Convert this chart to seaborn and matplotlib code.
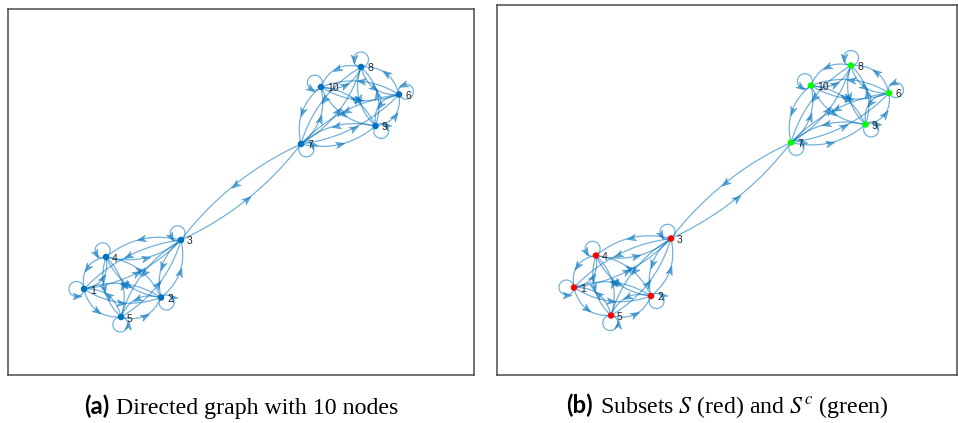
import numpy as np
import pandas as pd
import matplotlib
matplotlib.use("Agg")
import matplotlib.pyplot as plt
import seaborn as sns
from itertools import permutations
from matplotlib.path import Path
from matplotlib.markers import MarkerStyle
from matplotlib.transforms import Affine2D
from matplotlib.offsetbox import TextArea, HPacker, AnnotationBbox

# ---- graph data -------------------------------------------------------------
# layout coordinates (y axis points down)
node_ids = [1, 2, 3, 4, 5, 6, 7, 8, 9, 10]
node_x = [84, 161, 181, 106, 121, 399, 301, 361, 375.5, 321]
node_y = [289, 297.5, 240, 257, 317, 94.5, 144, 67, 126, 87]
# two complete digraphs joined by a pair of opposite edges
clusters = [[1, 2, 3, 4, 5], [6, 7, 8, 9, 10]]
bridge_edges = [(3, 7), (7, 3)]
# every node has a self-loop; screen direction of each loop in degrees
loop_angle = [180, -42, 117, 117, -95, 23, -45, 90, -41, 145]
subset = ["S", "S", "S", "S", "S", "Sc", "Sc", "Sc", "Sc", "Sc"]

captions = [("(a)", "Directed graph with 10 nodes"),
            ("(b)", "Subsets $S$ (red) and $S^c$ (green)")]

EDGE_COLOR = "#0072BD"
NODE_COLOR = "#0072BD"
SUBSET_PALETTE = {"S": "#FF0000", "Sc": "#00FF00"}

sns.set_style("white")
plt.rcParams["mathtext.fontset"] = "stix"

pos = {n: np.array([x, y], float) for n, x, y in zip(node_ids, node_x, node_y)}
nodes = pd.DataFrame({"node": node_ids, "x": node_x, "y": node_y, "subset": subset})

edges = [e for c in clusters for e in permutations(c, 2)] + bridge_edges

ARROW_PATH = Path([(1, 0), (-1, 0.75), (-0.45, 0), (-1, -0.75), (1, 0)],
                  [Path.MOVETO, Path.LINETO, Path.LINETO, Path.LINETO, Path.CLOSEPOLY])


def screen_dir(deg):
    a = np.radians(deg)
    return np.array([np.cos(a), -np.sin(a)])


def arrow_marker(vec):
    # vec is in layout coords (y down); markers rotate in screen coords (y up)
    ang = np.degrees(np.arctan2(-vec[1], vec[0]))
    return MarkerStyle(ARROW_PATH, transform=Affine2D().rotate_deg(ang))


def draw_arrow(ax, p, vec):
    ax.plot(p[0], p[1], marker=arrow_marker(vec), ms=6.5, color=EDGE_COLOR,
            alpha=0.6, mec=EDGE_COLOR, mew=0.4, zorder=2)


def draw_edges(ax, bend=9.5):
    t = np.linspace(0, 1, 50)[:, None]
    for s, d in edges:
        p0, p1 = pos[s], pos[d]
        vec = p1 - p0
        u = vec / np.linalg.norm(vec)
        right = np.array([-u[1], u[0]])
        ctrl = (p0 + p1) / 2 + right * 2 * bend
        curve = (1 - t) ** 2 * p0 + 2 * (1 - t) * t * ctrl + t ** 2 * p1
        ax.plot(curve[:, 0], curve[:, 1], color=EDGE_COLOR, lw=0.9, alpha=0.55,
                solid_capstyle="round", zorder=1)
        mid = 0.25 * p0 + 0.5 * ctrl + 0.25 * p1
        draw_arrow(ax, mid, vec)


def draw_loops(ax, r=7.5):
    phi = np.linspace(0, 360, 90)
    for n, ang in zip(node_ids, loop_angle):
        p = pos[n]
        c = p + r * screen_dir(ang)
        ring = np.array([c + r * screen_dir(ang + 180 + f) for f in phi])
        ax.plot(ring[:, 0], ring[:, 1], color=EDGE_COLOR, lw=0.9, alpha=0.55,
                zorder=1)
        side = ang + 90
        pt = c + r * screen_dir(side)
        draw_arrow(ax, pt, screen_dir(side + 90))


def draw_labels(ax):
    for n in node_ids:
        p = pos[n]
        ax.text(p[0] + 6, p[1] + 1.5, str(n), fontsize=7.5, color="#262626",
                family="Liberation Sans", va="center", ha="left", zorder=4)


W, H = 958, 423
fig = plt.figure(figsize=(W / 100, H / 100), dpi=100)

# panel frames in pixels: left, top, right, bottom ; plus layout offset
panels = [((8, 9, 474, 375), (0, 0)), ((497, 5, 957, 375), (490, -1.5))]
axes = []
for (l, tp, r, b), (dx, dy) in panels:
    ax = fig.add_axes([l / W, (H - b) / H, (r - l) / W, (b - tp) / H])
    ax.set_xlim(l - dx, r - dx)
    ax.set_ylim(b - dy, tp - dy)
    axes.append(ax)

for i, ax in enumerate(axes):
    draw_edges(ax)
    draw_loops(ax)
    if i == 0:
        sns.scatterplot(data=nodes, x="x", y="y", color=NODE_COLOR, s=22,
                        edgecolor="none", legend=False, ax=ax, zorder=3)
    else:
        sns.scatterplot(data=nodes, x="x", y="y", hue="subset",
                        palette=SUBSET_PALETTE, s=22, edgecolor="none",
                        legend=False, ax=ax, zorder=3)
    draw_labels(ax)
    ax.set(xticks=[], yticks=[], xlabel="", ylabel="")
    for sp in ax.spines.values():
        sp.set_visible(True)
        sp.set_color("#4a4a4a")
        sp.set_linewidth(1.1)

# captions below each panel
fs = 17.2
for ((l, tp, r, b), _), (tag, text) in zip(panels, captions):
    ta1 = TextArea(tag, textprops=dict(family="Lato", fontweight="bold",
                                       fontsize=fs, color="black"))
    ta2 = TextArea(text, textprops=dict(family="Liberation Serif", fontsize=fs,
                                        color="black"))
    box = HPacker(children=[ta1, ta2], align="baseline", pad=0, sep=5)
    ab = AnnotationBbox(box, ((l + r) / 2 / W, (H - 407) / H),
                        xycoords="figure fraction", frameon=False,
                        box_alignment=(0.5, 0.5))
    fig.add_artist(ab)

fig.savefig("out.png", dpi=100)
